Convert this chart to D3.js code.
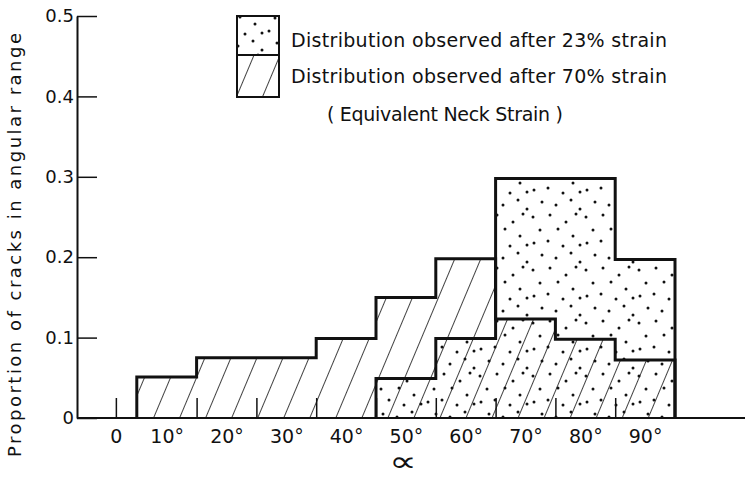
<!DOCTYPE html>
<html>
<head>
<meta charset="utf-8">
<script src="https://cdn.jsdelivr.net/npm/d3@7"></script>
<style>
  body { margin: 0; background: #fff; }
  svg { display: block; }
  text { font-family: "DejaVu Sans", sans-serif; fill: #111; }
</style>
</head>
<body>
<svg id="chart" width="745" height="478"></svg>
<script>
// Angular bins (degrees) and the proportion of cracks falling in each bin
const binEdges = [5, 15, 25, 35, 45, 55, 65, 75, 85, 95];
const strain70 = [0.051, 0.075, 0.075, 0.099, 0.15, 0.198, 0.123, 0.098, 0.072];
const strain23 = [0, 0, 0, 0, 0.049, 0.099, 0.298, 0.298, 0.197];

// Axis ticks and labels
const yTicks = [0, 0.1, 0.2, 0.3, 0.4, 0.5];
const yTickLabels = ["0", "0.1", "0.2", "0.3", "0.4", "0.5"];
const xTickMarks = [1.5, 15, 25, 35, 45, 55, 65, 75, 85];
const xLabelPos = [1.5, 10, 20, 30, 40, 50, 60, 70, 80, 90];
const xLabels = ["0", "10°", "20°", "30°", "40°", "50°", "60°", "70°", "80°", "90°"];

const legendLabels = [
  "Distribution observed after 23% strain",
  "Distribution observed after 70% strain",
  "( Equivalent Neck Strain )"
];
const yTitle = "Proportion of cracks in angular range";
const xTitle = "∝";

const W = 745, H = 478;
const svg = d3.select("#chart");
const ink = "#111";

const x = d3.scaleLinear().domain([-5, 95]).range([77, 675]);
const y = d3.scaleLinear().domain([0, 0.5]).range([418, 16]);

// ---- fill patterns ----
const defs = svg.append("defs");
const hatch = defs.append("pattern")
  .attr("id", "hatch")
  .attr("patternUnits", "userSpaceOnUse")
  .attr("width", 24).attr("height", 24)
  .attr("patternTransform", "translate(153,418) rotate(22.8)");
hatch.append("line")
  .attr("x1", 0).attr("y1", -2).attr("x2", 0).attr("y2", 26)
  .attr("stroke", ink).attr("stroke-width", 1.6);

const dotSpots = [[3,5],[20,3],[36,10],[46,2],[10,18],[28,17],[43,24],[4,31],[18,29],[33,34],[12,43],[26,46],[41,41],[50,33],[50,50]];
const dots = defs.append("pattern")
  .attr("id", "dots")
  .attr("patternUnits", "userSpaceOnUse")
  .attr("width", 53).attr("height", 53);
dots.selectAll("circle").data(dotSpots).join("circle")
  .attr("cx", d => d[0]).attr("cy", d => d[1]).attr("r", 1.5)
  .attr("fill", ink);

// ---- step outlines built from the bins ----
function stepPath(values) {
  let first = values.findIndex(v => v > 0);
  let last = values.length - 1;
  while (last > first && values[last] === 0) last--;
  const p = d3.path();
  p.moveTo(x(binEdges[first]), y(0));
  for (let i = first; i <= last; i++) {
    p.lineTo(x(binEdges[i]), y(values[i]));
    p.lineTo(x(binEdges[i + 1]), y(values[i]));
  }
  p.lineTo(x(binEdges[last + 1]), y(0));
  return p.toString();
}

const path70 = stepPath(strain70);
const path23 = stepPath(strain23);

svg.append("path").attr("d", path70 + "Z").attr("fill", "url(#hatch)");
svg.append("path").attr("d", path23 + "Z").attr("fill", "url(#dots)");

// ---- axes ----
// x axis baseline runs across to the right edge
svg.append("line")
  .attr("x1", x(-5)).attr("x2", W)
  .attr("y1", y(0)).attr("y2", y(0))
  .attr("stroke", ink).attr("stroke-width", 2);

const xAxis = svg.append("g")
  .attr("transform", `translate(0,${y(0)})`)
  .call(d3.axisBottom(x).tickValues(xTickMarks).tickSizeInner(-20).tickSizeOuter(0).tickFormat(""));
xAxis.select(".domain").remove();
xAxis.selectAll(".tick line").attr("stroke", ink).attr("stroke-width", 1.5);

const xLab = svg.append("g")
  .attr("transform", `translate(0,${y(0)})`)
  .call(d3.axisBottom(x).tickValues(xLabelPos).tickSize(0).tickPadding(12)
    .tickFormat((d, i) => xLabels[i]));
xLab.select(".domain").remove();
xLab.selectAll("text").attr("font-size", 19).attr("fill", ink)
  .attr("font-family", "DejaVu Sans, sans-serif");

const yAxis = svg.append("g")
  .attr("transform", `translate(${x(-5)},0)`)
  .call(d3.axisLeft(y).tickValues(yTicks).tickSizeInner(-20).tickSizeOuter(0).tickPadding(3)
    .tickFormat((d, i) => yTickLabels[i]));
yAxis.select(".domain").attr("stroke", ink).attr("stroke-width", 2);
yAxis.selectAll(".tick line").attr("stroke", ink).attr("stroke-width", 1.5);
yAxis.selectAll("text").attr("font-size", 18).attr("fill", ink)
  .attr("font-family", "DejaVu Sans, sans-serif");

// ---- outlines on top ----
svg.append("path").attr("d", path70).attr("fill", "none")
  .attr("stroke", ink).attr("stroke-width", 3).attr("stroke-linejoin", "miter");
svg.append("path").attr("d", path23).attr("fill", "none")
  .attr("stroke", ink).attr("stroke-width", 3).attr("stroke-linejoin", "miter");

// ---- titles ----
svg.append("text")
  .attr("transform", `translate(21,245) rotate(-90)`)
  .attr("text-anchor", "middle")
  .attr("font-size", 18)
  .attr("textLength", 424).attr("lengthAdjust", "spacing")
  .text(yTitle);

// angle symbol, widened to the drawn lettering
svg.append("text")
  .attr("transform", "translate(403,471) scale(1.6,1.15)")
  .attr("text-anchor", "middle")
  .attr("font-size", 24)
  .text(xTitle);

// ---- legend ----
const lg = svg.append("g");
lg.append("rect").attr("x", 237).attr("y", 16).attr("width", 42).attr("height", 39)
  .attr("fill", "url(#dots)");
lg.append("rect").attr("x", 237).attr("y", 55).attr("width", 42).attr("height", 42)
  .attr("fill", "url(#hatch)");
lg.append("rect").attr("x", 237).attr("y", 16).attr("width", 42).attr("height", 81)
  .attr("fill", "none").attr("stroke", ink).attr("stroke-width", 2);
lg.append("line").attr("x1", 237).attr("x2", 279).attr("y1", 55).attr("y2", 55)
  .attr("stroke", ink).attr("stroke-width", 2);

const legendText = [
  { x: 291, y: 47, len: 376 },
  { x: 291, y: 83, len: 376 },
  { x: 327, y: 121, len: 236 }
];
lg.selectAll("text.lbl").data(legendLabels).join("text")
  .attr("class", "lbl")
  .attr("x", (d, i) => legendText[i].x)
  .attr("y", (d, i) => legendText[i].y)
  .attr("font-size", 19)
  .attr("textLength", (d, i) => legendText[i].len)
  .attr("lengthAdjust", "spacing")
  .text(d => d);
</script>
</body>
</html>
